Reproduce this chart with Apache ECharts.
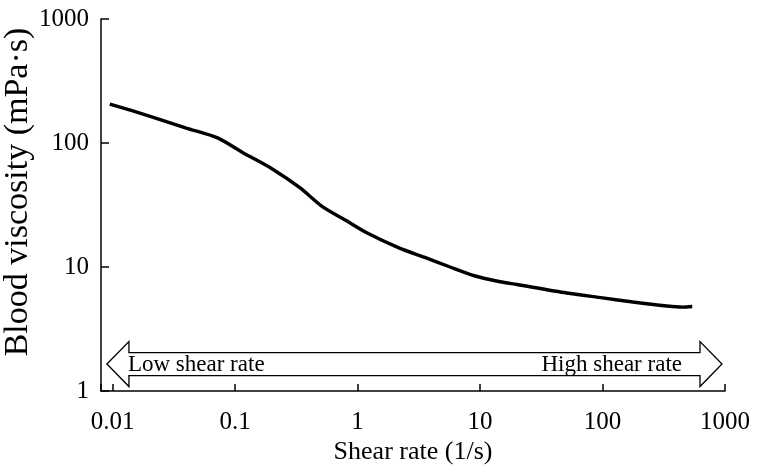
<!DOCTYPE html>
<html>
<head>
<meta charset="utf-8">
<script src="https://cdn.jsdelivr.net/npm/echarts@6/dist/echarts.min.js"></script>
<style>html,body{margin:0;padding:0;background:#fff;}#c{width:759px;height:473px;}</style>
</head>
<body>
<div id="c"></div>
<script>
// Data
var shearRate = [0.0095, 0.02, 0.04, 0.072, 0.12, 0.2, 0.34, 0.52, 0.8, 1.2, 2.2, 3.5, 5.7, 9, 14.6, 20, 51, 100, 177, 336, 450, 540];
var viscosity = [206, 165, 132, 110, 82, 62, 43.4, 30.5, 23.8, 18.8, 14.2, 12.0, 10.0, 8.5, 7.6, 7.22, 6.17, 5.64, 5.22, 4.85, 4.75, 4.8];
var xTicks = [0.01, 0.1, 1, 10, 100, 1000];
var yTicks = [1, 10, 100, 1000];
// Arrow annotation (data space): left tip, right tip, centre height
var arrowX = [0.009, 945];
var arrowY = 1.65;
var arrowLabels = ['Low shear rate', 'High shear rate'];

var FONT = '"Liberation Serif", "Times New Roman", serif';
var chart = echarts.init(document.getElementById('c'));

function isTick(list, v) {
  for (var i = 0; i < list.length; i++) {
    if (Math.abs(Math.log10(v) - Math.log10(list[i])) < 1e-6) return true;
  }
  return false;
}

var curve = shearRate.map(function (x, i) { return [x, viscosity[i]]; });

chart.setOption({
  animation: false,
  backgroundColor: '#fff',
  grid: { left: 101, right: 34, top: 19, bottom: 82, containLabel: false, outerBoundsMode: 'none' },
  xAxis: {
    type: 'log',
    logBase: 10,
    min: 0.00805,
    max: 1000,
    name: 'Shear rate (1/s)',
    nameLocation: 'middle',
    nameGap: 48,
    nameMoveOverlap: false,
    nameTextStyle: { fontFamily: FONT, fontSize: 26, color: '#000' },
    axisLine: { show: true, lineStyle: { color: '#000', width: 1.5 } },
    axisTick: { show: true, inside: true, length: 7, lineStyle: { color: '#000', width: 1.5 } },
    axisLabel: {
      fontFamily: FONT, fontSize: 25, color: '#000', margin: 19,
      showMinLabel: true,
      formatter: function (v) { return isTick(xTicks, v) ? String(+v.toPrecision(6)) : ''; }
    },
    splitLine: { show: false }
  },
  yAxis: {
    type: 'log',
    logBase: 10,
    min: 1,
    max: 1000,
    name: 'Blood viscosity (mPa·s)',
    nameLocation: 'middle',
    nameGap: 66,
    nameRotate: 90,
    nameMoveOverlap: false,
    nameTextStyle: { fontFamily: FONT, fontSize: 34, color: '#000', padding: [0, 0, 0, 26] },
    axisLine: { show: true, lineStyle: { color: '#000', width: 1.5 } },
    axisTick: { show: true, inside: true, length: 8, lineStyle: { color: '#000', width: 1.5 } },
    axisLabel: {
      fontFamily: FONT, fontSize: 25, color: '#000', margin: 12,
      formatter: function (v) { return isTick(yTicks, v) ? String(+v.toPrecision(6)) : ''; }
    },
    splitLine: { show: false }
  },
  series: [
    {
      type: 'line',
      data: curve,
      showSymbol: false,
      smooth: 0.25,
      lineStyle: { color: '#000', width: 3.4 },
      z: 3
    },
    {
      type: 'custom',
      coordinateSystem: 'cartesian2d',
      data: [[arrowX[0], arrowY, arrowX[1]]],
      renderItem: function (params, api) {
        var pL = api.coord([api.value(0), api.value(1)]);
        var pR = api.coord([api.value(2), api.value(1)]);
        var cy = pL[1];
        var bh = 11.5, hh = 22.5, hl = 22;
        var pts = [
          [pL[0], cy],
          [pL[0] + hl, cy - hh],
          [pL[0] + hl, cy - bh],
          [pR[0] - hl, cy - bh],
          [pR[0] - hl, cy - hh],
          [pR[0], cy],
          [pR[0] - hl, cy + hh],
          [pR[0] - hl, cy + bh],
          [pL[0] + hl, cy + bh],
          [pL[0] + hl, cy + hh]
        ];
        return {
          type: 'group',
          children: [
            { type: 'polygon', shape: { points: pts }, style: { fill: '#fff', stroke: '#000', lineWidth: 1.3 } },
            { type: 'text', x: pL[0] + hl - 1, y: cy + 1, style: { text: arrowLabels[0], font: '23px ' + FONT, fill: '#000', align: 'left', verticalAlign: 'middle' } },
            { type: 'text', x: pR[0] - hl - 18, y: cy + 1, style: { text: arrowLabels[1], font: '23px ' + FONT, fill: '#000', align: 'right', verticalAlign: 'middle' } }
          ]
        };
      },
      z: 2
    }
  ]
});
</script>
</body>
</html>
